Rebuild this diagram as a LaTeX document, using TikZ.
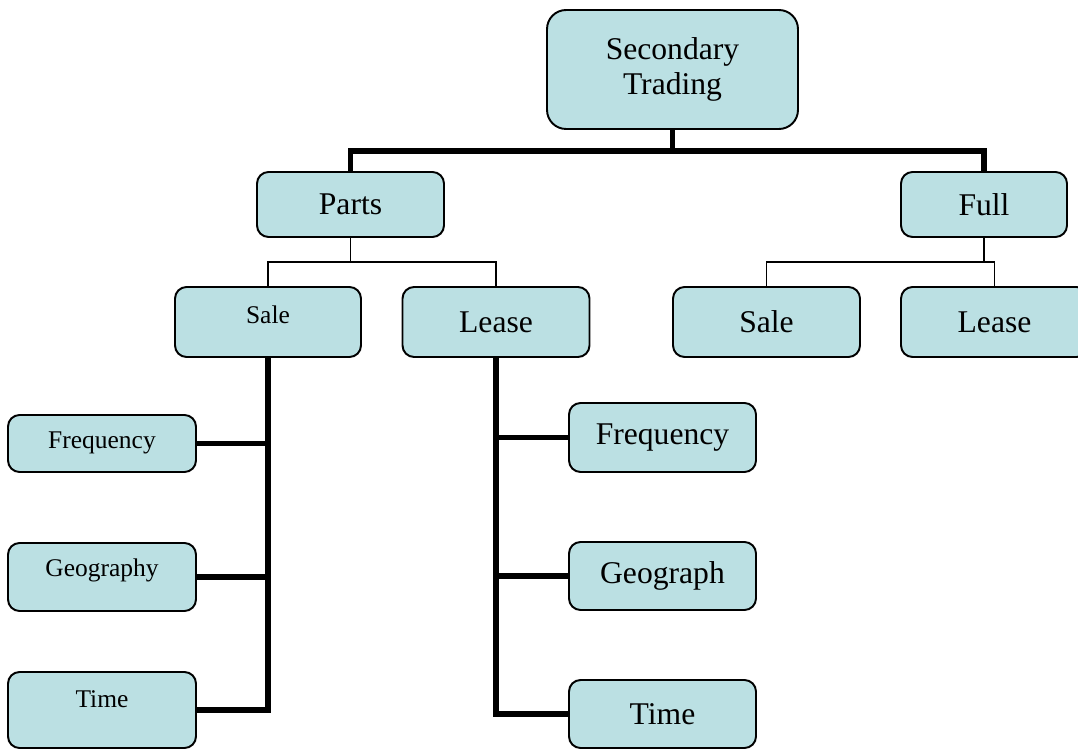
\documentclass[tikz,border=0pt]{standalone}
\usepackage{fontspec}
\setmainfont{Liberation Serif}
\usepackage{xcolor}
\usepackage{tikz}
\definecolor{boxfill}{RGB}{187,224,227}
\tikzset{
  box/.style={draw, fill=boxfill, line width=1.1pt, rounded corners=0.23cm,
    inner sep=0pt, align=center, font=\fontsize{18}{20}\selectfont},
  smallbox/.style={box, label={[font=\fontsize{14.5}{17}\selectfont,
    anchor=center, yshift=-0.57cm]north:#1}},
  bus/.style={line width=2.9pt},
  twig/.style={line width=0.8pt}
}

\begin{document}
\begin{tikzpicture}[x=0.02cm,y=-0.02cm]
    \useasboundingbox (0,0) rectangle (1078,749);
    \node[box, rounded corners=0.38cm, minimum width=5.02cm, minimum height=2.38cm] (trading) at (672.5,69.5) {Secondary\\Trading};
    \node[box, minimum width=3.74cm, minimum height=1.3cm] (parts) at (350.5,204.5) {Parts};
    \node[box, minimum width=3.32cm, minimum height=1.3cm] (full) at (984,204.5) {Full};
    \node[smallbox=Sale, minimum width=3.72cm, minimum height=1.4cm] (psale) at (268,322) {};
    \node[box, minimum width=3.74cm, minimum height=1.4cm] (please) at (496,322) {Lease};
    \node[box, minimum width=3.74cm, minimum height=1.4cm] (fsale) at (766.5,322) {Sale};
    \node[box, minimum width=3.74cm, minimum height=1.4cm] (flease) at (994.5,322) {Lease};
    \node[smallbox=Frequency, minimum width=3.76cm, minimum height=1.14cm] (sfreq) at (102,443.5) {};
    \node[smallbox=Geography, minimum width=3.76cm, minimum height=1.36cm] (sgeo) at (102,577) {};
    \node[smallbox=Time, minimum width=3.76cm, minimum height=1.52cm] (stime) at (102,710) {};
    \node[box, minimum width=3.74cm, minimum height=1.38cm] (lfreq) at (662.5,437.5) {Frequency};
    \node[box, minimum width=3.74cm, minimum height=1.36cm] (lgeo) at (662.5,576) {Geograph};
    \node[box, minimum width=3.74cm, minimum height=1.36cm] (ltime) at (662.5,714) {Time};
    \coordinate (tradingfork) at (672.5,151);
    \coordinate (partsfork) at (350.5,262);
    \coordinate (fullfork) at (984,262);
    \draw[bus] (trading.south) -- (tradingfork);
    \draw[bus] (parts.north) |- (tradingfork) -| (full.north);
    \draw[twig] (parts.south) -- (partsfork);
    \draw[twig] (psale.north) |- (partsfork) -| (please.north);
    \draw[twig] (full.south) -- (fullfork);
    \draw[twig] (fsale.north) |- (fullfork) -| (flease.north);
    \draw[bus] (psale.south) |- (stime.east);
    \draw[bus] (sfreq.east) -- (sfreq.east -| psale.south);
    \draw[bus] (sgeo.east) -- (sgeo.east -| psale.south);
    \draw[bus] (please.south) |- (ltime.west);
    \draw[bus] (lfreq.west) -- (lfreq.west -| please.south);
    \draw[bus] (lgeo.west) -- (lgeo.west -| please.south);
\end{tikzpicture}
\end{document}
